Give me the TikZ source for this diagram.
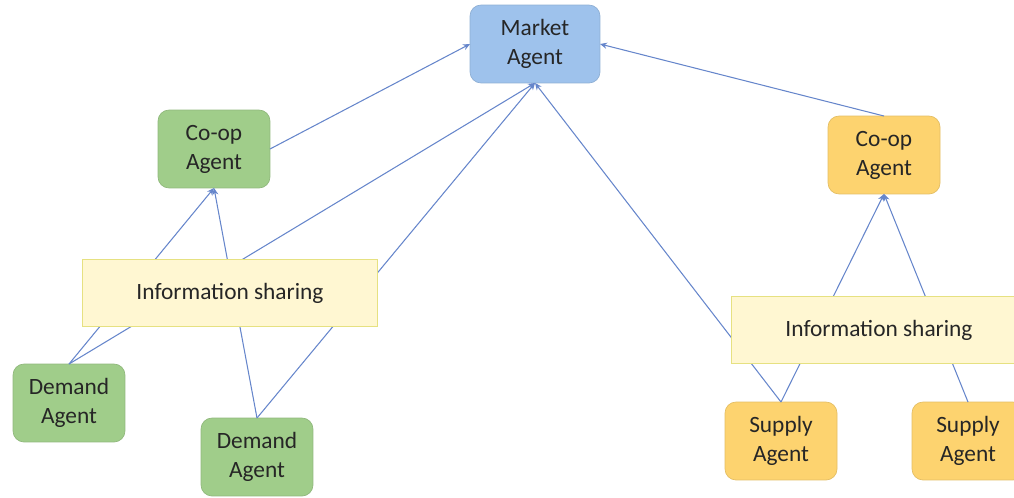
\documentclass[tikz,border=0pt]{standalone}
\usepackage{fontspec}
\setmainfont{Carlito}
\usetikzlibrary{arrows.meta}

\definecolor{marketblue}{HTML}{9EC2EC}
\definecolor{demandgreen}{HTML}{A0CD8A}
\definecolor{supplyorange}{HTML}{FDD36F}
\definecolor{infoyellow}{HTML}{FFF7D2}
\definecolor{linkblue}{HTML}{6686CB}

\begin{document}
\begin{tikzpicture}[x=0.02cm,y=-0.02cm,inner sep=0pt,outer sep=0pt,
	agent/.style={rounded corners=0.22cm, minimum width=2.24cm, minimum height=1.56cm, align=center, text=black!85, font=\fontsize{13.3}{16.5}\selectfont},
	info/.style={draw=black!20!yellow!55!white, fill=infoyellow, minimum width=5.9cm, minimum height=1.34cm, text=black!85, font=\fontsize{13.3}{16.5}\selectfont},
	link/.style={linkblue, line width=0.6pt, -{Stealth[length=4pt,width=3.5pt]}}]
	\useasboundingbox (0,0) rectangle (1014,497);

	\node[agent, fill=marketblue, draw=marketblue!90!black, minimum width=2.6cm] at (535,44) (market) {Market\\Agent};
	\node[agent, fill=demandgreen, draw=demandgreen!90!black] at (214,149) (coop_l) {Co-op\\Agent};
	\node[agent, fill=supplyorange, draw=supplyorange!90!black] at (884,155) (coop_r) {Co-op\\Agent};
	\node[agent, fill=demandgreen, draw=demandgreen!90!black] at (69,403) (demand_1) {Demand\\Agent};
	\node[agent, fill=demandgreen, draw=demandgreen!90!black] at (257,457) (demand_2) {Demand\\Agent};
	\node[agent, fill=supplyorange, draw=supplyorange!90!black] at (781,441) (supply_1) {Supply\\Agent};
	\node[agent, fill=supplyorange, draw=supplyorange!90!black] at (968,441) (supply_2) {Supply\\Agent};

	\draw[link] (coop_l.east)--(market.west);
	\draw[link] (coop_r.north)--(market.east);
	\draw[link] (demand_1.north)--(coop_l.south);
	\draw[link] (demand_2.north)--(coop_l.south);
	\draw[link] (demand_1.north)--(market.south);
	\draw[link] (demand_2.north)--(market.south);
	\draw[link] (supply_1.north)--(market.south);
	\draw[link] (supply_1.north)--(coop_r.south);
	\draw[link] (supply_2.north)--(coop_r.south);

	% sharing boxes sit on top of the links
	\node[info] at (230,293) (info_l) {Information sharing};
	\node[info] at (879,330) (info_r) {Information sharing};
\end{tikzpicture}
\end{document}
